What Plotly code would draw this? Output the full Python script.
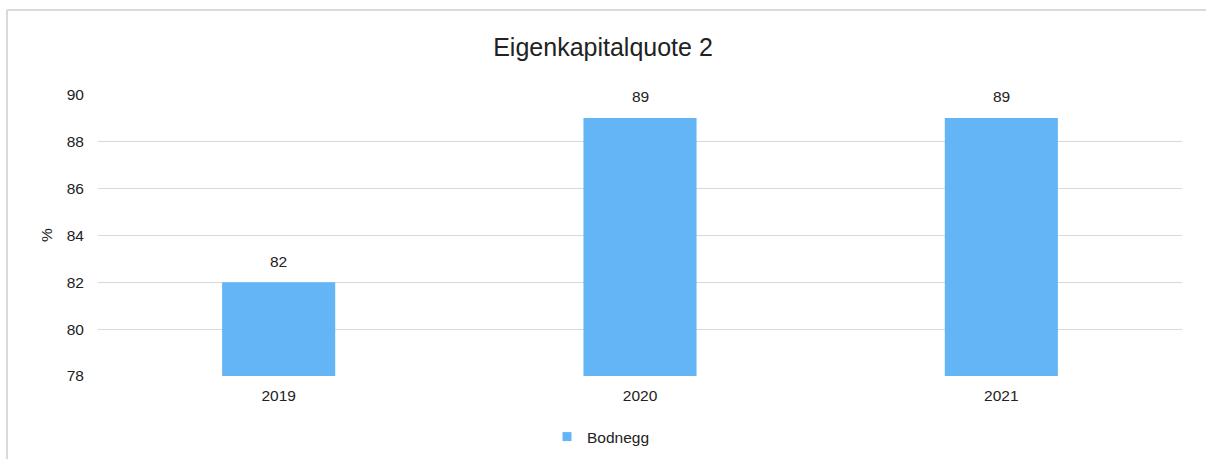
import plotly.graph_objects as go

categories = ["2019", "2020", "2021"]
values = [82, 89, 89]
series_name = "Bodnegg"
title_text = "Eigenkapitalquote 2"
y_title = "%"
y_ticks = [78, 80, 82, 84, 86, 88, 90]

FONT = "Liberation Sans, Arial, sans-serif"
BAR = "#64B5F6"
FS = 15.5

fig = go.Figure()
fig.add_trace(go.Bar(
    x=categories, y=values, name=series_name,
    marker=dict(color=BAR, line=dict(width=0)),
    showlegend=False,
))
# legend proxy with a small square swatch
fig.add_trace(go.Scatter(
    x=[None], y=[None], mode="markers", name=series_name,
    marker=dict(symbol="square", size=9, color=BAR),
    showlegend=True,
))

for i, (c, v) in enumerate(zip(categories, values)):
    fig.add_annotation(x=i, y=v, xref="x", yref="y", text=str(v), showarrow=False,
                       yshift=21, font=dict(size=FS, color="#222", family=FONT))

L, R, T, B = 98, 24, 94, 83
W, H = 1206, 459
pw, ph = W - L - R, H - T - B

def px_x(p):
    return (p - L) / pw

def px_y(p):
    return (H - B - p) / ph

fig.add_shape(type="line", xref="paper", yref="paper",
              x0=px_x(7), x1=px_x(1206), y0=px_y(10), y1=px_y(10),
              line=dict(color="#d9d9d9", width=2))
fig.add_shape(type="line", xref="paper", yref="paper",
              x0=px_x(7), x1=px_x(7), y0=px_y(10), y1=px_y(470),
              line=dict(color="#d9d9d9", width=2))

fig.update_layout(
    width=W, height=H,
    margin=dict(l=L, r=R, t=T, b=B, autoexpand=False),
    paper_bgcolor="white", plot_bgcolor="white",
    font=dict(family=FONT, size=FS, color="#222"),
    title=dict(text=title_text, x=0.5, xanchor="center", y=1 - 47 / H, yanchor="middle",
               font=dict(size=25, color="#222", family=FONT)),
    bargap=0.687,
    xaxis=dict(type="category", categoryorder="array", categoryarray=categories,
               range=[-0.5, len(categories) - 0.5],
               showgrid=False, showline=False,
               ticks="outside", ticklen=5, tickcolor="rgba(0,0,0,0)",
               tickfont=dict(size=FS)),
    yaxis=dict(range=[78, 90.02], tickvals=y_ticks, showgrid=True, gridcolor="#d9d9d9",
               gridwidth=1, zeroline=False, showline=False,
               ticks="outside", ticklen=10, tickcolor="rgba(0,0,0,0)",
               tickfont=dict(size=FS),
               title=dict(text=y_title, font=dict(size=FS), standoff=10)),
    legend=dict(orientation="h", x=px_x(547), xanchor="left", y=px_y(437), yanchor="middle",
                font=dict(size=FS), itemwidth=30),
)

fig.write_html("out.html", config={"displayModeBar": False},
               post_script="document.body.style.margin='0';")
